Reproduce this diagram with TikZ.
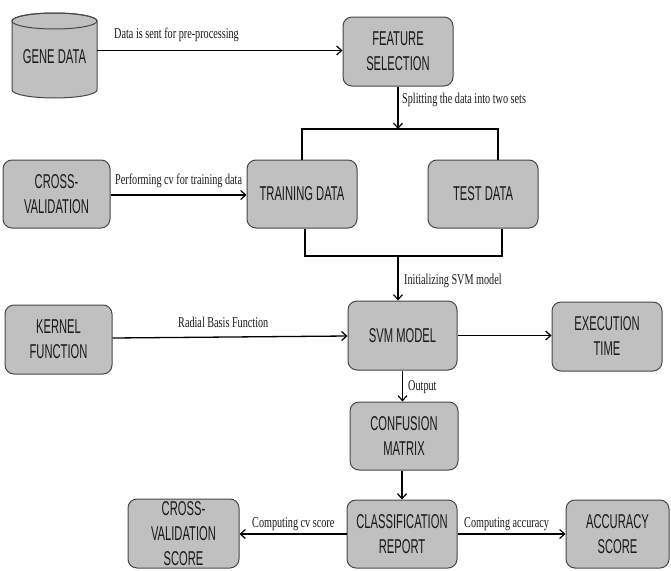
\documentclass[tikz,border=0pt]{standalone}
\usepackage{fontspec}
\usetikzlibrary{arrows.meta}
\newfontfamily\boxfont[FakeStretch=0.56]{Liberation Sans}
\newfontfamily\labfont[FakeStretch=0.68]{Liberation Serif}
\definecolor{boxgray}{HTML}{C0C0C0}
\definecolor{boxedge}{HTML}{474747}
\tikzset{
  box/.style={draw=boxedge, fill=boxgray, line width=1pt, rounded corners=9pt,
    align=center, inner sep=0pt, text=black!90,
    font=\boxfont\fontsize{20}{25}\selectfont},
  conn/.style={line width=1.3pt, draw=black},
  arr/.style={conn, -{Straight Barb[length=5pt,width=9pt,line width=1.2pt]}},
  lab/.style={font=\labfont\fontsize{15}{17}\selectfont, inner sep=0pt, text=black!90}
}
\begin{document}
\begin{tikzpicture}[x=1pt,y=-1pt]
\useasboundingbox (0,0) rectangle (671,570);
% cylinder
\draw[draw=boxedge, fill=boxgray, line width=1pt]
  (12,21) -- (12,90) arc[start angle=180,end angle=0,x radius=42.5,y radius=8]
  -- (97,21) arc[start angle=0,end angle=-180,x radius=42.5,y radius=8] -- cycle;
\draw[draw=boxedge, line width=1pt] (54.5,21) ellipse[x radius=42.5,y radius=8];
\node[inner sep=0pt, minimum width=85pt, minimum height=86pt, font=\boxfont\fontsize{20}{25}\selectfont, text=black!90] (gene) at (54.5,57) {GENE DATA};

\node[box, minimum width=110pt, minimum height=69pt] (fs) at (398,51.5) {FEATURE\\SELECTION};
\node[box, minimum width=110pt, minimum height=68pt] (train) at (302,194) {TRAINING DATA};
\node[box, minimum width=110pt, minimum height=68pt] (test) at (483,194) {TEST DATA};
\node[box, minimum width=107pt, minimum height=68pt] (cv) at (56.5,194) {CROSS-\\VALIDATION};
\node[box, minimum width=107pt, minimum height=69pt] (kernel) at (58.5,339.5) {KERNEL\\FUNCTION};
\node[box, minimum width=109pt, minimum height=69pt] (svm) at (402.5,335.5) {SVM MODEL};
\node[box, minimum width=110pt, minimum height=69pt] (exec) at (607,336.5) {EXECUTION\\TIME};
\node[box, minimum width=108pt, minimum height=68pt] (cm) at (404,436) {CONFUSION\\MATRIX};
\node[box, minimum width=110pt, minimum height=68pt] (cr) at (402,534) {CLASSIFICATION\\REPORT};
\node[box, minimum width=111pt, minimum height=69pt] (cvs) at (183.5,533.5) {CROSS-\\VALIDATION\\SCORE};
\node[box, minimum width=103pt, minimum height=68pt] (acc) at (617.5,534) {ACCURACY\\SCORE};

\coordinate (splitT) at (398,129);
\coordinate (joinB) at (398,256);

% connectors
\draw[arr] (gene.east |- 0,50.5) -- (fs.west |- 0,50.5);
\draw[arr] (fs.south -| splitT) -- (splitT);
\draw[conn] (train.north) -- (train.north |- splitT) -- ([xshift=15pt]test.north |- splitT) -- ([xshift=15pt]test.north);
\draw[conn] ([xshift=3pt]train.south) -- ([xshift=3pt]train.south |- joinB) -- ([xshift=19pt]test.south |- joinB) -- ([xshift=19pt]test.south);
\draw[arr] (joinB) -- (joinB |- svm.north);
\draw[arr] (cv.east |- 0,195) -- (train.west |- 0,195);
\draw[arr] (kernel.east |- 0,338) -- (svm.west |- 0,336);
\draw[arr] (svm.east) -- (exec.west |- svm.east);
\draw[arr] (svm.south) -- (cm.north -| svm.south);
\draw[arr] (cm.south -| 402,0) -- (cr.north);
\draw[arr] (cr.west) -- (cvs.east |- cr.west);
\draw[arr] (cr.east) -- (acc.west |- cr.east);

% labels
\node[lab, anchor=west] (l1) at (114,35) {Data is sent for pre-processing};
\node[lab, anchor=west] (l2) at (402,100) {Splitting the data into two sets};
\node[lab, anchor=west] (l3) at (115,181) {Performing cv for training data};
\node[lab, anchor=west] (l4) at (178,322) {Radial Basis Function};
\node[lab, anchor=west] (l5) at (404,281) {Initializing SVM model};
\node[lab, anchor=west] (l6) at (408,387) {Output};
\node[lab, anchor=west] (l7) at (252,524) {Computing cv score};
\node[lab, anchor=west] (l8) at (464,524) {Computing accuracy};
\end{tikzpicture}
\end{document}
